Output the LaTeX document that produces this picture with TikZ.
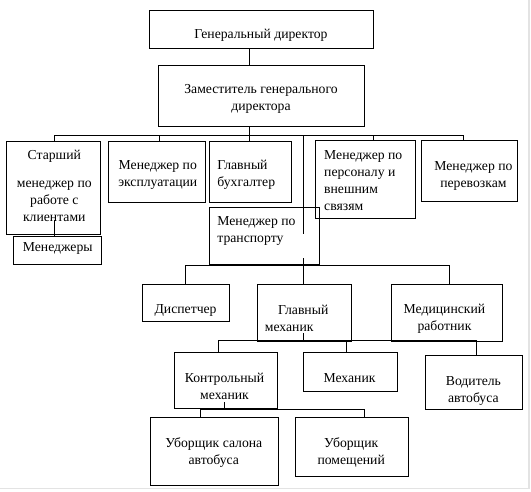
\documentclass[tikz,border=0pt]{standalone}
\usepackage{fontspec}
\setmainfont{Liberation Serif}
\begin{document}
\begin{tikzpicture}[x=1pt,y=-1pt,
  box/.style={draw=black,line width=1pt,rectangle,inner sep=0pt},
  txt/.style={inner sep=0pt,font=\fontsize{13.7}{17}\selectfont},
  conn/.style={draw=black,line width=1pt}]
\useasboundingbox (0,0) rectangle (531,491);
\draw[gray!22,line width=1.5pt] (0,488.5) -- (529,488.5) -- (529,0);
% boxes
\node[box,minimum width=223.7pt,minimum height=38.3pt] (gd) at (261.5,29.2) {};
\node[box,minimum width=206pt,minimum height=61.7pt] (zam) at (261.8,95.9) {};
\node[box,minimum width=94pt,minimum height=92.3pt] (st) at (53.8,187.9) {};
\node[box,minimum width=88.2pt,minimum height=28.5pt] (mgr) at (57.7,250.3) {};
\node[box,minimum width=96.7pt,minimum height=60.6pt] (ex) at (157,172) {};
\node[box,minimum width=82.1pt,minimum height=60.6pt] (gb) at (250.8,172) {};
\node[box,minimum width=100.1pt,minimum height=78.3pt] (pers) at (365.7,179.2) {};
\node[box,minimum width=95.7pt,minimum height=61.7pt] (per) at (469.7,170.9) {};
\node[box,minimum width=110.1pt,minimum height=57.2pt] (tr) at (264.5,235.9) {};
\node[box,minimum width=86.5pt,minimum height=37.7pt] (disp) at (185.8,302.9) {};
\node[box,minimum width=94pt,minimum height=57.7pt] (gm) at (304.2,312.9) {};
\node[box,minimum width=111pt,minimum height=57.7pt] (med) at (446.7,312.9) {};
\node[box,minimum width=103.8pt,minimum height=56.1pt] (km) at (225.9,380.8) {};
\node[box,minimum width=93.8pt,minimum height=38.5pt] (meh) at (350.1,371.8) {};
\node[box,minimum width=97.4pt,minimum height=53.6pt] (vod) at (473.9,382.5) {};
\node[box,minimum width=128.2pt,minimum height=67.7pt] (us) at (214.1,451.2) {};
\node[box,minimum width=113pt,minimum height=59.4pt] (up) at (352.4,447) {};
% texts
\node[txt] (tgd) at (261,35) {Генеральный директор};
\node[txt,align=center] (tzam) at (261,99) {Заместитель генерального\\директора};
\node[txt,align=center] (tst) at (54.3,186) {Старший\\[11pt]менеджер по\\работе с\\клиентами};
\node[txt] (tmgr) at (57.7,248) {Менеджеры};
\node[txt,align=center] (tex) at (157.8,175) {Менеджер по\\эксплуатации};
\node[txt,align=left,anchor=west] (tgb) at (217.2,175) {Главный\\бухгалтер};
\node[txt,align=left,anchor=west] (tpers) at (324,181) {Менеджер по\\персоналу и\\внешним\\связям};
\node[txt,align=center] (tper) at (473.4,176) {Менеджер по\\перевозкам};
\node[txt,align=left,anchor=west] (ttr) at (217.2,231) {Менеджер по\\транспорту};
\node[txt] (tdisp) at (185.6,310) {Диспетчер};
\node[txt,align=left,anchor=west] (tgm) at (264.7,318.5) {\hspace{13.3pt}Главный\\механик};
\node[txt,align=center] (tmed) at (444.5,318.5) {Медицинский\\работник};
\node[txt,align=center] (tkm) at (224.5,386.7) {Контрольный\\механик};
\node[txt] (tmeh) at (349.5,378) {Механик};
\node[txt,align=center] (tvod) at (473.4,390.5) {Водитель\\автобуса};
\node[txt,align=center] (tus) at (213.8,453) {Уборщик салона\\автобуса};
\node[txt,align=center] (tup) at (351.2,453) {Уборщик\\помещений};
% connector coordinates
\coordinate (b1L) at (54.3,135);
\coordinate (b1R) at (463.2,135);
\coordinate (tri) at (303,234);
\coordinate (sti) at (54.3,220);
\coordinate (tro) at (303,258);
\coordinate (b2L) at (185.6,265);
\coordinate (b2R) at (449.6,265);
\coordinate (gmi) at (303.5,333);
\coordinate (b3L) at (218,340.5);
\coordinate (b3R) at (476.8,340.5);
\coordinate (kmi) at (224,402);
\coordinate (b4L) at (200.5,409);
\coordinate (b4R) at (364.1,409);
% connectors
\draw[conn] (gd.south -| 249,0) -- (zam.north -| 249,0);
\draw[conn] (zam.south -| 249,0) -- (b1L -| 249,0);
\draw[conn] (b1L) -- (b1R);
\draw[conn] (b1L) -- (b1L |- st.north);
\draw[conn] (b1L -| 159.5,0) -- (ex.north -| 159.5,0);
\draw[conn] (b1L -| 249.4,0) -- (gb.north -| 249.4,0);
\draw[conn] (b1L -| tri) -- (tri);
\draw[conn] (b1L -| 373.3,0) -- (pers.north -| 373.3,0);
\draw[conn] (b1R) -- (b1R |- per.north);
\draw[conn] (sti) -- (mgr.north -| sti);
\draw[conn] (tro) -- (gm.north -| tro);
\draw[conn] (b2L) -- (b2R);
\draw[conn] (b2L) -- (b2L |- disp.north);
\draw[conn] (b2R) -- (b2R |- med.north);
\draw[conn] (gmi) -- (b3L -| gmi);
\draw[conn] (b3L) -- (b3R);
\draw[conn] (b3L) -- (b3L |- km.north);
\draw[conn] (b3L -| 346,0) -- (meh.north -| 346,0);
\draw[conn] (b3R) -- (b3R |- vod.north);
\draw[conn] (kmi) -- (b4L -| kmi);
\draw[conn] (b4L) -- (b4R);
\draw[conn] (b4L) -- (b4L |- us.north);
\draw[conn] (b4R) -- (b4R |- up.north);
\end{tikzpicture}
\end{document}
